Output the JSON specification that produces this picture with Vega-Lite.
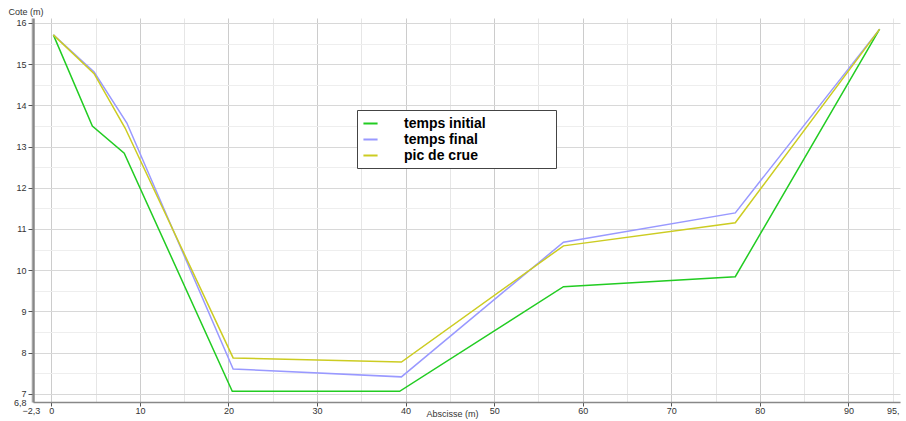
{
  "$schema": "https://vega.github.io/schema/vega-lite/v6.json",
  "autosize": "none",
  "width": 867,
  "height": 384,
  "padding": {"left": 33, "top": 18, "right": 6, "bottom": 19},
  "background": "white",
  "config": {
    "locale": {"number": {"decimal": ",", "thousands": " ", "grouping": [3], "currency": ["", " €"]}},
    "view": {"stroke": null},
    "font": "Liberation Sans"
  },
  "data": {"values": [
    {"serie": "temps initial", "x": 0, "y": 15.71},
    {"serie": "temps initial", "x": 4.4, "y": 13.5},
    {"serie": "temps initial", "x": 8.0, "y": 12.84},
    {"serie": "temps initial", "x": 20.2, "y": 7.06},
    {"serie": "temps initial", "x": 39.1, "y": 7.06},
    {"serie": "temps initial", "x": 57.6, "y": 9.6},
    {"serie": "temps initial", "x": 77.0, "y": 9.84},
    {"serie": "temps initial", "x": 93.3, "y": 15.85},
    {"serie": "temps final", "x": 0, "y": 15.71},
    {"serie": "temps final", "x": 4.6, "y": 14.81},
    {"serie": "temps final", "x": 8.3, "y": 13.57},
    {"serie": "temps final", "x": 20.3, "y": 7.6},
    {"serie": "temps final", "x": 39.3, "y": 7.41},
    {"serie": "temps final", "x": 57.6, "y": 10.68},
    {"serie": "temps final", "x": 77.0, "y": 11.39},
    {"serie": "temps final", "x": 93.3, "y": 15.85},
    {"serie": "pic de crue", "x": 0, "y": 15.71},
    {"serie": "pic de crue", "x": 4.6, "y": 14.77},
    {"serie": "pic de crue", "x": 8.1, "y": 13.45},
    {"serie": "pic de crue", "x": 20.3, "y": 7.87},
    {"serie": "pic de crue", "x": 39.3, "y": 7.77},
    {"serie": "pic de crue", "x": 57.6, "y": 10.59},
    {"serie": "pic de crue", "x": 77.0, "y": 11.15},
    {"serie": "pic de crue", "x": 93.3, "y": 15.85}
  ]},
  "mark": {"type": "line", "strokeWidth": 1.5, "clip": true},
  "encoding": {
    "x": {
      "field": "x", "type": "quantitative",
      "scale": {"domain": [-2.3, 95.6], "nice": false, "zero": false},
      "axis": {
        "values": [-2.3, 0, 5, 10, 15, 20, 25, 30, 35, 40, 45, 50, 55, 60, 65, 70, 75, 80, 85, 90, 95],
        "labelExpr": "(datum.value % 10 === 0 || datum.value < 0) ? datum.label : (datum.value === 95 ? '95,' : '')",
        "format": ".1~f",
        "labelOverlap": false,
        "title": "Abscisse (m)",
        "titleFont": "Liberation Sans",
        "titleFontSize": 9,
        "titleFontWeight": "normal",
        "titleColor": "#333",
        "titleX": 419,
        "titleY": 14,
        "titleBaseline": "alphabetic",
        "labelFontSize": 9,
        "labelColor": "#333",
        "labelPadding": 0,
        "labelFlush": false,
        "domainColor": "#888",
        "domainWidth": 1.5,
        "tickColor": {"condition": {"test": "datum.value % 10 === 0", "value": "#555"}, "value": "transparent"},
        "tickSize": 4,
        "tickOffset": -2,
        "grid": true,
        "gridColor": {"condition": {"test": "datum.value % 10 === 0", "value": "#cccccc"}, "value": "#e6e6e6"},
        "gridWidth": 1
      }
    },
    "y": {
      "field": "y", "type": "quantitative",
      "scale": {"domain": [6.8, 16.12], "nice": false, "zero": false},
      "axis": {
        "values": [6.8, 7, 7.5, 8, 8.5, 9, 9.5, 10, 10.5, 11, 11.5, 12, 12.5, 13, 13.5, 14, 14.5, 15, 15.5, 16],
        "labelExpr": "(datum.value % 1 === 0 || datum.value < 7) ? datum.label : ''",
        "format": ".1~f",
        "labelOverlap": false,
        "title": "Cote (m)",
        "titleFont": "Liberation Sans",
        "titleFontSize": 9,
        "titleFontWeight": "normal",
        "titleColor": "#333",
        "titleAngle": 0,
        "titleAlign": "left",
        "titleBaseline": "alphabetic",
        "titleX": -25,
        "titleY": -4,
        "labelFontSize": 9,
        "labelColor": "#333",
        "labelPadding": 2,
        "domainColor": "#888",
        "domainWidth": 2.5,
        "tickColor": {"condition": {"test": "datum.value % 1 === 0", "value": "#555"}, "value": "transparent"},
        "tickSize": 5,
        "grid": true,
        "gridColor": {"condition": {"test": "datum.value % 1 === 0", "value": "#d8d8d8"}, "value": "#eeeeee"},
        "gridWidth": 1
      }
    },
    "color": {
      "field": "serie", "type": "nominal",
      "scale": {"domain": ["temps initial", "temps final", "pic de crue"], "range": ["#22cc22", "#9999ff", "#cccc22"]},
      "legend": {
        "orient": "none",
        "legendX": 324,
        "legendY": 92,
        "title": null,
        "symbolType": "stroke",
        "symbolStrokeWidth": 2,
        "symbolSize": 200,
        "labelFont": "Liberation Sans",
        "labelFontSize": 14,
        "labelFontWeight": "bold",
        "labelColor": "#000",
        "labelOffset": 25,
        "labelLimit": 300,
        "labelExpr": "datum.label + '\u00a0\u00a0\u00a0\u00a0\u00a0\u00a0\u00a0\u00a0\u00a0\u00a0\u00a0\u00a0\u00a0\u00a0\u2800'",
        "rowPadding": -6,
        "padding": 5,
        "strokeColor": "#444",
        "fillColor": "white"
      }
    }
  }
}
